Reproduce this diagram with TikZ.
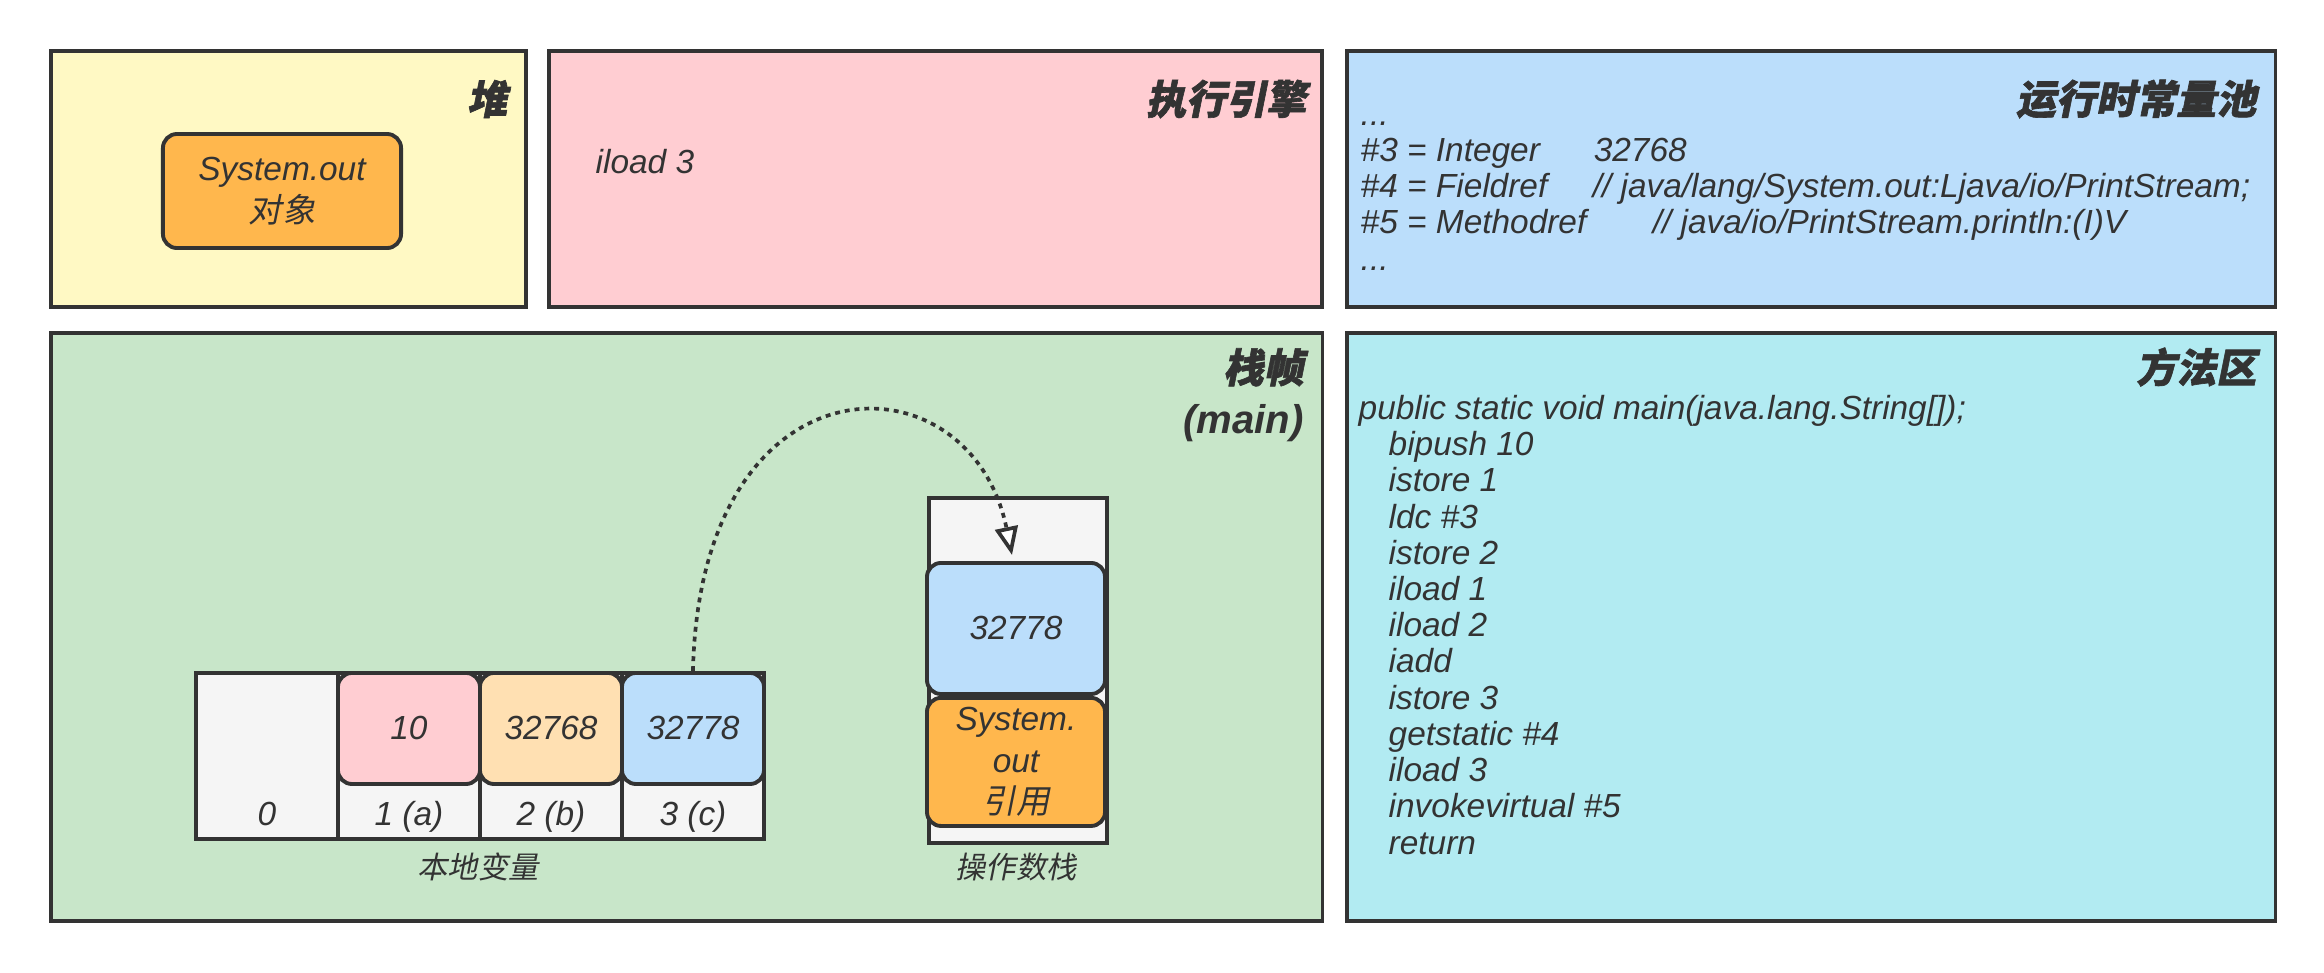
\documentclass[tikz,border=0pt]{standalone}
\usepackage{fontspec}
\setmainfont{Liberation Sans}
\newfontfamily\cjk{Noto Sans CJK SC}[FakeSlant=0.2]
\newfontfamily\cjkbf{Noto Sans CJK SC}[FakeSlant=0.2,FakeBold=1.5]
\usetikzlibrary{arrows.meta}

\definecolor{ink}{HTML}{333333}
\definecolor{heapfill}{HTML}{FFF9C4}
\definecolor{enginefill}{HTML}{FFCDD2}
\definecolor{poolfill}{HTML}{BBDEFB}
\definecolor{framefill}{HTML}{C8E6C9}
\definecolor{methodfill}{HTML}{B2EBF2}
\definecolor{objfill}{HTML}{FFB74D}
\definecolor{slotfill}{HTML}{F5F5F5}
\definecolor{peachfill}{HTML}{FFE0B2}

\begin{document}
\begin{tikzpicture}[
    x=0.01cm, y=-0.01cm,
    font=\fontsize{9.5}{10.3}\selectfont\itshape,
    every node/.style={text=ink},
    panel/.style={
        draw=ink,
        line width=1pt,
        anchor=north west,
        inner sep=0pt
    },
    title/.style={
        font=\fontsize{11.4}{14.5}\selectfont\bfseries\itshape,
        inner sep=0pt,
        align=right,
        anchor=east
    },
    slot/.style={
        draw=ink,
        line width=1.1pt,
        fill=slotfill,
        anchor=north west,
        inner sep=0pt
    },
    value/.style={
        draw=ink,
        line width=1.1pt,
        rounded corners=4pt,
        inner sep=0pt,
        align=center,
        font=\fontsize{9.5}{11.8}\selectfont\itshape
    },
    listing/.style={align=left, inner sep=0pt, anchor=base west},
    caption/.style={inner sep=0pt, font=\fontsize{8.6}{10}\selectfont},
    pushline/.style={
        draw=ink,
        line width=1.05pt,
        dash pattern=on 1.4pt off 1.4pt,
        -{Triangle[fill=white, length=8pt, width=6.5pt]}
    }
]
\path[use as bounding box, fill=white] (0,0) rectangle (2324,972);

% Five areas of the JVM
\node[panel, fill=heapfill, minimum width=4.75cm, minimum height=2.56cm] (heap) at (49,49) {};
\node[panel, fill=enginefill, minimum width=7.73cm, minimum height=2.56cm] (engine) at (547,49) {};
\node[panel, fill=poolfill, minimum width=9.28cm, minimum height=2.56cm] (pool) at (1345,49) {};
\node[panel, fill=framefill, minimum width=12.71cm, minimum height=5.88cm] (frame) at (49,331) {};
\node[panel, fill=methodfill, minimum width=9.28cm, minimum height=5.88cm] (method) at (1345,331) {};

\node[title] at ([xshift=-0.2cm, yshift=-0.5cm]heap.north east) {\cjkbf 堆};
\node[title] at ([xshift=-0.17cm, yshift=-0.5cm]engine.north east) {\cjkbf 执行引擎};
\node[title] at ([xshift=-0.2cm, yshift=-0.5cm]pool.north east) {\cjkbf 运行时常量池};
\node[title] at ([xshift=-0.2cm, yshift=-0.64cm]frame.north east) {{\cjkbf 栈帧}\\(main)};
\node[title] at ([xshift=-0.2cm, yshift=-0.36cm]method.north east) {\cjkbf 方法区};

% Heap object and current instruction
\node[value, fill=objfill, minimum width=2.38cm, minimum height=1.14cm] (sysobj) at (282,191) {System.out\\{\cjk 对象}};
\node[listing] (instr) at (595,173) {iload 3};

% Runtime constant pool (anchored at the last line)
\node[listing] (constants) at (1360,270) {...\\
    \makebox[2.33cm][l]{\#3 = Integer}32768\\
    \makebox[2.32cm][l]{\#4 = Fieldref}// java/lang/System.out:Ljava/io/PrintStream;\\
    \makebox[2.92cm][l]{\#5 = Methodref}// java/io/PrintStream.println:(I)V\\
    ...};

% Bytecode of main (anchored at the last line)
\def\ind{\hspace*{0.3cm}}
\node[listing] (bytecode) at (1358,854) {public static void main(java.lang.String[]);\\
    \ind bipush 10\\ \ind istore 1\\ \ind ldc \#3\\ \ind istore 2\\
    \ind iload 1\\ \ind iload 2\\ \ind iadd\\ \ind istore 3\\
    \ind getstatic \#4\\ \ind iload 3\\ \ind invokevirtual \#5\\ \ind return};

% Local variable table
\foreach \i/\lab in {0/0, 1/1 (a), 2/2 (b), 3/3 (c)}{
    \node[slot, minimum width=1.42cm, minimum height=1.66cm] (lv\i) at (194+142*\i,671) {};
    \node[anchor=base, inner sep=0pt] at ([yshift=0.15cm]lv\i.south) {\lab};
}
\foreach \i/\val/\col in {1/10/enginefill, 2/32768/peachfill, 3/32778/poolfill}{
    \node[value, fill=\col, minimum width=1.42cm, minimum height=1.11cm, anchor=north] (val\i) at (lv\i.north) {\val};
}
\node[caption] (lvcap) at (478,867) {\cjk 本地变量};

% Operand stack
\node[slot, minimum width=1.78cm, minimum height=3.45cm] (opstack) at (927,496) {};
\node[value, fill=poolfill, minimum width=1.78cm, minimum height=1.31cm, anchor=north] (os1) at (1016,561) {32778};
\node[value, fill=objfill, minimum width=1.78cm, minimum height=1.28cm, anchor=north] (os2) at (os1.south) {System.\\out\\{\cjk 引用}};
\node[caption] (oscap) at (1016,867) {\cjk 操作数栈};

\coordinate (pushpt) at (1012,555);
\draw[pushline] (lv3.north) .. controls (700,350) and (970,350) .. (pushpt);
\end{tikzpicture}
\end{document}
